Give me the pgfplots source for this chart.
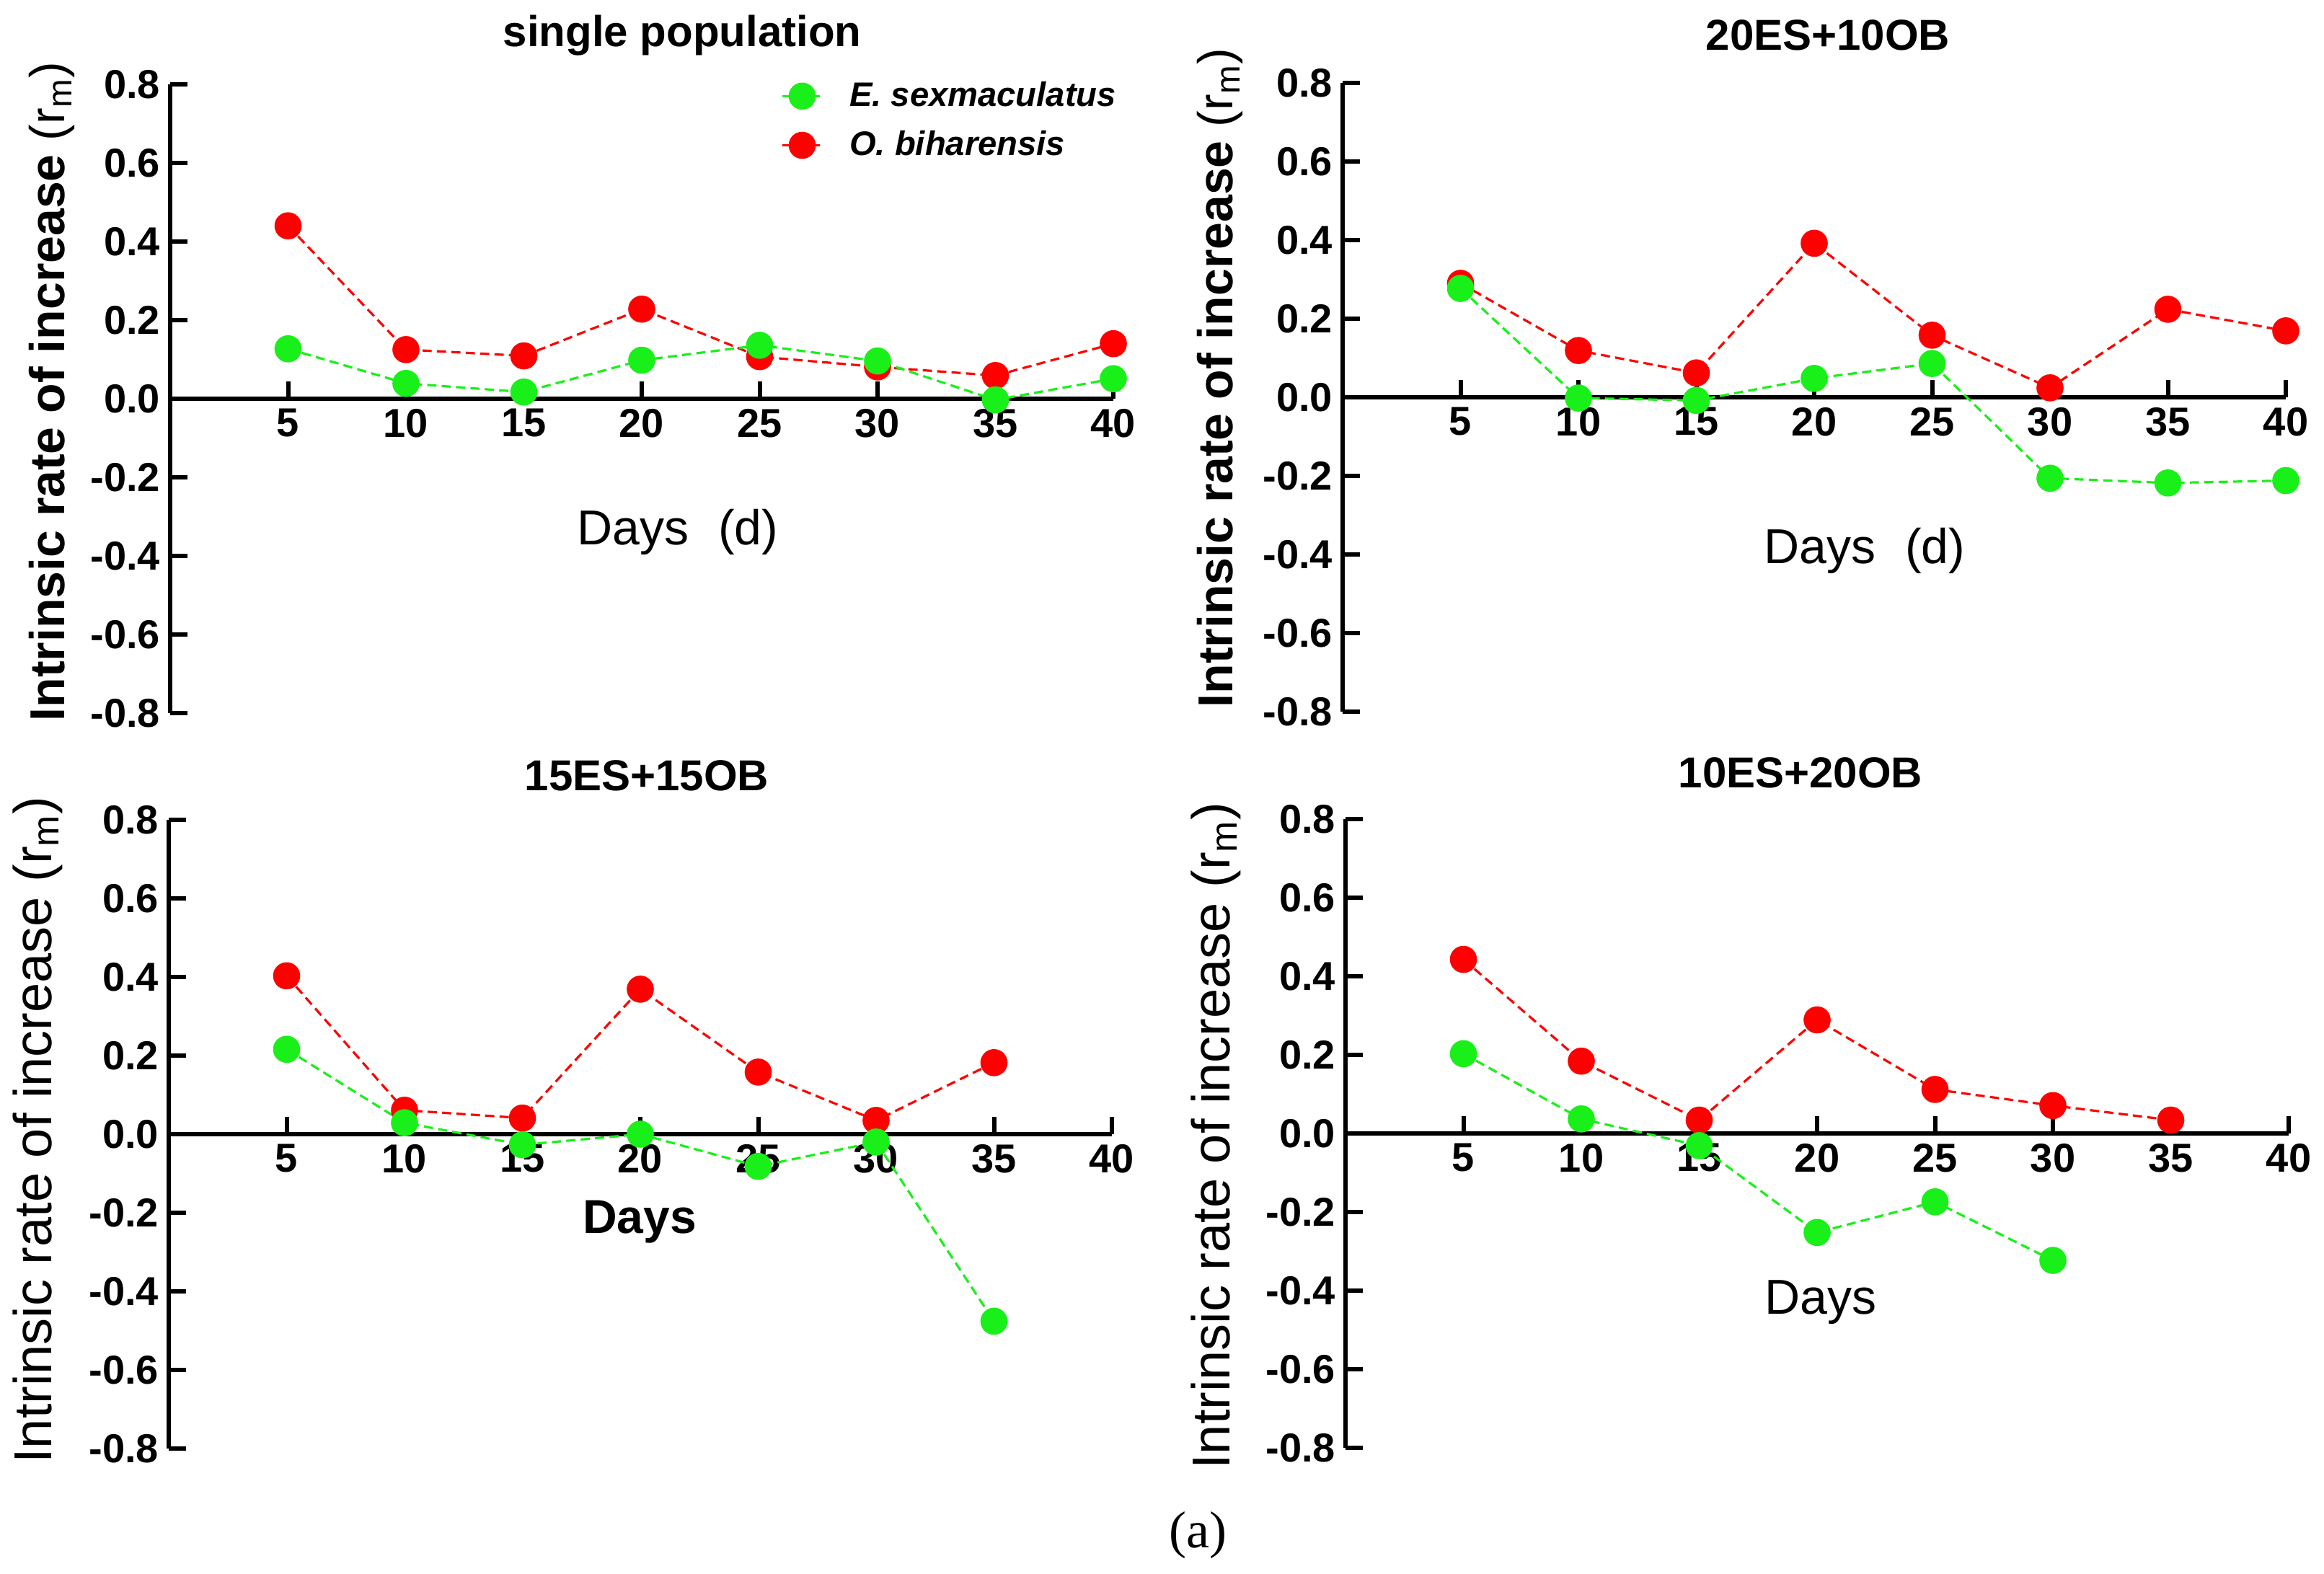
\documentclass[border=0pt]{standalone}
\usepackage{fontspec}
\setmainfont{Liberation Sans}
\newfontfamily\serifa{Liberation Serif}
\usepackage{pgfplots}
\pgfplotsset{compat=1.18}
\definecolor{esgreen}{RGB}{25,240,25}
\definecolor{obred}{RGB}{255,0,0}
\pgfplotsset{
  panel/.style={
    scale only axis, width=327pt, height=218pt,
    anchor=south west,
    xmin=0, xmax=40, ymin=-0.8, ymax=0.8,
    axis x line=middle, axis y line=left,
    axis line style={-, line width=1.5pt, black},
    xtick={5,10,15,20,25,30,35,40},
    xticklabels={5,10,15,20,25,30,35,40},
    ytick={-0.8,-0.6,-0.4,-0.2,0,0.2,0.4,0.6,0.8},
    yticklabels={-0.8,-0.6,-0.4,-0.2,0.0,0.2,0.4,0.6,0.8},
    tick style={line width=1.5pt, black},
    major tick length=6pt,
    tick align=inside,
    ticklabel style={font=\fontsize{14}{14}\selectfont\bfseries},
    clip=false,
    legend image code/.code={\draw[mark repeat=2,mark phase=2,##1] plot coordinates {(0pt,0pt) (7pt,0pt) (14pt,0pt)};},
  },
  es/.style={color=esgreen, line width=0.8pt, dash pattern=on 3.2pt off 1.8pt, mark=*, mark size=4.3pt, mark options={solid, fill=esgreen, draw=esgreen}},
  ob/.style={color=obred, line width=0.8pt, dash pattern=on 3.2pt off 1.8pt, mark=*, mark size=4.3pt, mark options={solid, fill=obred, draw=obred}},
}
\newcommand{\ylabB}{{\bfseries Intrinsic rate of increase }(r\textsubscript{m})}
\newcommand{\ylabR}{Intrinsic rate of increase (r\textsubscript{m})}
\begin{document}
\begin{tikzpicture}
\useasboundingbox (0,0) rectangle (805.75pt,545.75pt);
% Panel 1
\begin{axis}[panel, at={(59pt,298.5pt)},
  reverse legend,
  legend style={draw=none, fill=none, at={(axis cs:25.9,0.7075)}, anchor=west,
    inner sep=0pt, outer sep=0pt, nodes={inner sep=1pt}, row sep=5pt, column sep=8pt,
    font=\fontsize{11.8}{13}\selectfont\bfseries\itshape},
  legend cell align=left]
\addplot[ob] coordinates {(5,0.44)(10,0.125)(15,0.109)(20,0.228)(25,0.107)(30,0.081)(35,0.059)(40,0.14)};
\addlegendentry{O. biharensis}
\addplot[es] coordinates {(5,0.127)(10,0.039)(15,0.017)(20,0.098)(25,0.136)(30,0.096)(35,-0.003)(40,0.051)};
\addlegendentry{E. sexmaculatus}
\end{axis}
% Panel 2
\begin{axis}[panel, at={(465.5pt,299pt)}]
\addplot[ob] coordinates {(5,0.29)(10,0.119)(15,0.062)(20,0.392)(25,0.158)(30,0.024)(35,0.224)(40,0.169)};
\addplot[es] coordinates {(5,0.277)(10,-0.002)(15,-0.008)(20,0.048)(25,0.086)(30,-0.206)(35,-0.218)(40,-0.212)};
\end{axis}
% Panel 3
\begin{axis}[panel, at={(58.5pt,43.5pt)}]
\addplot[ob] coordinates {(5,0.403)(10,0.061)(15,0.041)(20,0.369)(25,0.158)(30,0.035)(35,0.182)};
\addplot[es] coordinates {(5,0.216)(10,0.029)(15,-0.027)(20,0.0)(25,-0.082)(30,-0.02)(35,-0.476)};
\end{axis}
% Panel 4
\begin{axis}[panel, at={(466.5pt,43.75pt)}]
\addplot[ob] coordinates {(5,0.443)(10,0.184)(15,0.034)(20,0.289)(25,0.112)(30,0.071)(35,0.034)};
\addplot[es] coordinates {(5,0.203)(10,0.037)(15,-0.031)(20,-0.252)(25,-0.174)(30,-0.323)};
\end{axis}
% titles
\node[font=\fontsize{15}{15}\selectfont\bfseries] at (236.5pt,533.5pt) {single population};
\node[font=\fontsize{15}{15}\selectfont\bfseries] at (633.75pt,533.5pt) {20ES+10OB};
\node[font=\fontsize{15}{15}\selectfont\bfseries] at (224.25pt,276.75pt) {15ES+15OB};
\node[font=\fontsize{15}{15}\selectfont\bfseries] at (624.25pt,277.75pt) {10ES+20OB};
% y labels
\node[rotate=90, font=\fontsize{17}{17}\selectfont] at (18pt,410pt) {\ylabB};
\node[rotate=90, font=\fontsize{17}{17}\selectfont] at (423pt,414.75pt) {\ylabB};
\node[rotate=90, font=\fontsize{18.5}{18.5}\selectfont] at (13pt,154pt) {\ylabR};
\node[rotate=90, font=\fontsize{18.5}{18.5}\selectfont] at (421.5pt,152pt) {\ylabR};
% x labels
\node[font=\fontsize{17}{17}\selectfont] at (235pt,361.25pt) {Days\hspace{0.6em}(d)};
\node[font=\fontsize{17}{17}\selectfont] at (646.5pt,354.75pt) {Days\hspace{0.6em}(d)};
\node[font=\fontsize{16.5}{16.5}\selectfont\bfseries] at (221.75pt,122pt) {Days};
\node[font=\fontsize{17}{17}\selectfont] at (631.25pt,94.25pt) {Days};
% caption
\node[font=\fontsize{18}{18}\selectfont\serifa] at (415.25pt,13.5pt) {(a)};
\end{tikzpicture}
\end{document}
